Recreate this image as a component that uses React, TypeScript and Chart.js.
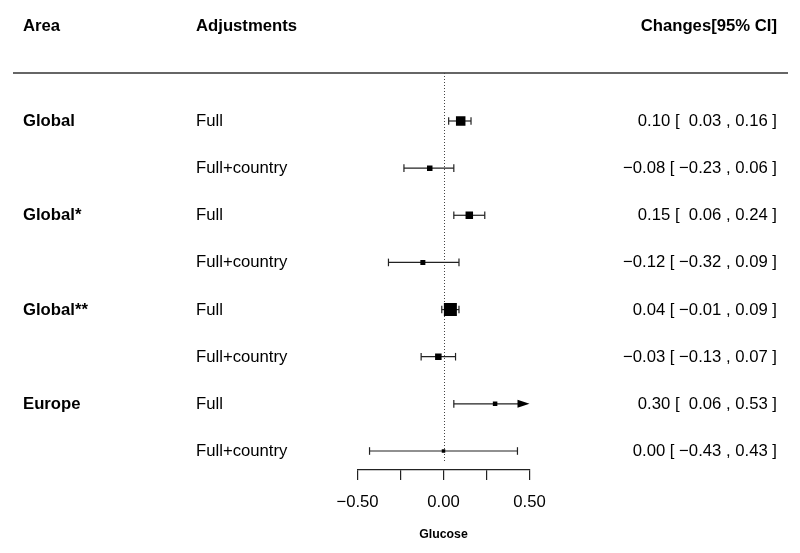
import React, { useEffect, useRef } from "react";
import { Chart, registerables } from "chart.js";

Chart.register(...registerables);

// ---- data ----
const areas = ["Global", "", "Global*", "", "Global**", "", "Europe", ""];
const adjustments = ["Full", "Full+country", "Full", "Full+country", "Full", "Full+country", "Full", "Full+country"];
const estimates = [0.1, -0.08, 0.15, -0.12, 0.04, -0.03, 0.3, 0.0];
const lowerCI = [0.03, -0.23, 0.06, -0.32, -0.01, -0.13, 0.06, -0.43];
const upperCI = [0.16, 0.06, 0.24, 0.09, 0.09, 0.07, 0.53, 0.43];
const weights = [9.5, 5.5, 7.5, 5, 13, 6.5, 4.5, 3.5];
const xTickValues = [-0.5, -0.25, 0, 0.25, 0.5];
const xTickLabels = ["\u22120.50", "", "0.00", "", "0.50"];
const headers = ["Area", "Adjustments", "Changes[95% CI]"];
const xTitle = "Glucose";

const FONT = "'Liberation Sans', Arial, sans-serif";

function fmt(v: number): string {
  return (v < 0 ? "\u2212" : "") + Math.abs(v).toFixed(2);
}
function ciText(i: number): string {
  const lo = lowerCI[i] < 0 ? fmt(lowerCI[i]) : " " + fmt(lowerCI[i]);
  return `${fmt(estimates[i])} [ ${lo} , ${fmt(upperCI[i])} ]`;
}

const forestPlugin = {
  id: "forest",
  beforeDatasetsDraw(chart: any) {
    const { ctx, chartArea, scales } = chart;
    const xs = scales.x;
    const ys = scales.y;
    ctx.save();
    // header rule
    ctx.strokeStyle = "#333";
    ctx.lineWidth = 1.3;
    ctx.setLineDash([]);
    ctx.beginPath();
    ctx.moveTo(13, chartArea.top);
    ctx.lineTo(788, chartArea.top);
    ctx.stroke();
    // zero line
    const x0 = Math.round(xs.getPixelForValue(0)) + 0.5;
    ctx.strokeStyle = "#444";
    ctx.lineWidth = 1;
    ctx.setLineDash([1, 2]);
    ctx.beginPath();
    ctx.moveTo(x0, chartArea.top);
    ctx.lineTo(x0, ys.getPixelForValue(estimates.length - 1 + 0.23));
    ctx.stroke();
    ctx.setLineDash([]);
    // CI bars
    const xmin = xs.min, xmax = xs.max;
    ctx.strokeStyle = "#222";
    ctx.fillStyle = "#000";
    ctx.lineWidth = 1.2;
    for (let i = 0; i < estimates.length; i++) {
      const y = ys.getPixelForValue(i);
      const lo = Math.max(lowerCI[i], xmin);
      const hi = Math.min(upperCI[i], xmax);
      const pl = xs.getPixelForValue(lo);
      const ph = xs.getPixelForValue(hi);
      const clipHi = upperCI[i] > xmax;
      const clipLo = lowerCI[i] < xmin;
      ctx.beginPath();
      ctx.moveTo(pl, y);
      ctx.lineTo(clipHi ? ph - 10 : ph, y);
      ctx.stroke();
      const cap = 3.8;
      if (!clipLo) {
        ctx.beginPath();
        ctx.moveTo(pl, y - cap);
        ctx.lineTo(pl, y + cap);
        ctx.stroke();
      }
      if (!clipHi) {
        ctx.beginPath();
        ctx.moveTo(ph, y - cap);
        ctx.lineTo(ph, y + cap);
        ctx.stroke();
      } else {
        ctx.beginPath();
        ctx.moveTo(ph, y);
        ctx.lineTo(ph - 12, y - 4);
        ctx.lineTo(ph - 12, y + 4);
        ctx.closePath();
        ctx.fill();
      }
    }
    ctx.restore();
  },
  afterDraw(chart: any) {
    const { ctx, scales } = chart;
    const ys = scales.y;
    ctx.save();
    ctx.fillStyle = "#000";
    ctx.textBaseline = "alphabetic";
    // headers
    ctx.font = `bold 16.7px ${FONT}`;
    ctx.textAlign = "left";
    ctx.fillText(headers[0], 23, 31);
    ctx.fillText(headers[1], 196, 31);
    ctx.textAlign = "right";
    ctx.fillText(headers[2], 777, 31);
    for (let i = 0; i < estimates.length; i++) {
      const y = ys.getPixelForValue(i) + 5;
      ctx.textAlign = "left";
      if (areas[i]) {
        ctx.font = `bold 16.7px ${FONT}`;
        ctx.fillText(areas[i], 23, y);
      }
      ctx.font = `16.7px ${FONT}`;
      ctx.fillText(adjustments[i], 196, y);
      ctx.textAlign = "right";
      ctx.fillText(ciText(i), 777, y);
    }
    ctx.restore();
  },
};

export default function App() {
  const ref = useRef<HTMLCanvasElement | null>(null);
  useEffect(() => {
    if (!ref.current) return;
    const chart = new Chart(ref.current, {
      type: "scatter",
      data: {
        datasets: [
          {
            data: estimates.map((e, i) => ({ x: e, y: i })),
            pointStyle: "rect",
            pointRadius: weights.map((w) => w / Math.SQRT2),
            backgroundColor: "#000",
            borderColor: "#000",
            borderWidth: 0,
          } as any,
        ],
      },
      options: {
        animation: false,
        responsive: false,
        devicePixelRatio: 1,
        layout: { padding: { left: 357.5, right: 270.5, top: 73, bottom: 0 } },
        plugins: { legend: { display: false }, tooltip: { enabled: false } },
        scales: {
          x: {
            type: "linear",
            min: -0.5,
            max: 0.5,
            afterBuildTicks: (axis: any) => {
              axis.ticks = xTickValues.map((v) => ({ value: v }));
            },
            afterFit: (axis: any) => {
              axis.height = 83;
            },
            grid: {
              display: true,
              drawOnChartArea: false,
              drawTicks: true,
              tickLength: 10,
              color: "#222",
              lineWidth: 1.2,
            },
            border: { display: true, color: "#222", width: 1.2 },
            ticks: {
              autoSkip: false,
              maxRotation: 0,
              padding: 12,
              color: "#000",
              font: { family: FONT, size: 16.7 },
              callback: (v: any) => {
                const idx = xTickValues.findIndex((t) => Math.abs(t - Number(v)) < 1e-9);
                return idx >= 0 ? xTickLabels[idx] : "";
              },
            },
            title: {
              display: true,
              text: xTitle,
              color: "#000",
              font: { family: FONT, size: 12.3, weight: "bold" },
              padding: { top: 0, bottom: 11 },
            },
          },
          y: {
            type: "linear",
            display: false,
            reverse: true,
            min: -1.018,
            max: 7.403,
          },
        },
      },
      plugins: [forestPlugin],
    });
    return () => chart.destroy();
  }, []);
  return (
    <canvas
      ref={ref}
      width={800}
      height={553}
      style={{ position: "absolute", left: 0, top: 0, width: 800, height: 553 }}
    />
  );
}
